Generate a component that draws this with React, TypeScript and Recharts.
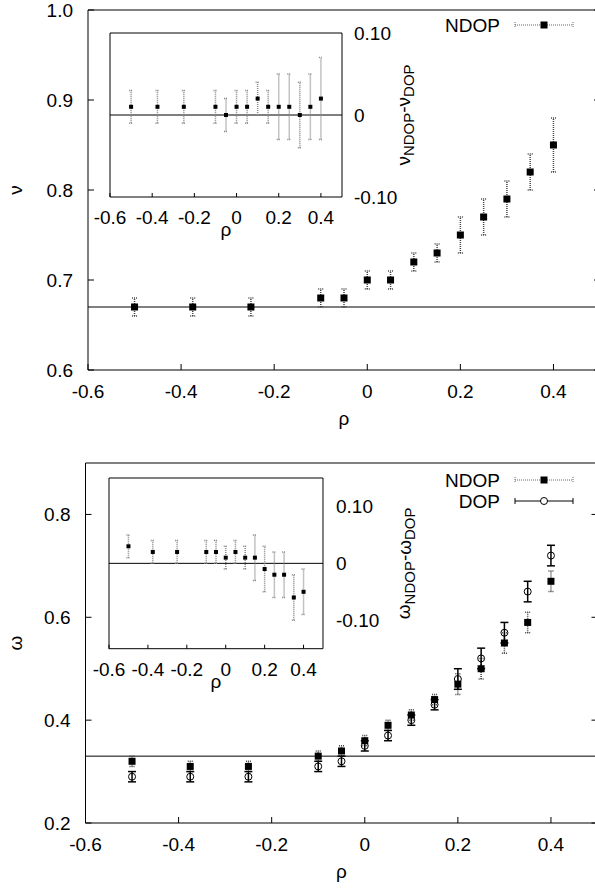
import React from "react";
import {
  ScatterChart,
  Scatter,
  XAxis,
  YAxis,
  ErrorBar,
  ReferenceLine,
} from "recharts";

// rho values shared by every series
const rho = [-0.5, -0.375, -0.25, -0.1, -0.05, 0, 0.05, 0.1, 0.15, 0.2, 0.25, 0.3, 0.35, 0.4];

// upper panel: nu
const nuNdop = [0.67, 0.67, 0.67, 0.68, 0.68, 0.7, 0.7, 0.72, 0.73, 0.75, 0.77, 0.79, 0.82, 0.85];
const nuNdopErr = [0.01, 0.01, 0.01, 0.01, 0.01, 0.01, 0.01, 0.01, 0.01, 0.02, 0.02, 0.02, 0.02, 0.03];
const nuDiff = [0.01, 0.01, 0.01, 0.01, 0, 0.01, 0.01, 0.02, 0.01, 0.01, 0.01, 0, 0.01, 0.02];
const nuDiffErr = [0.02, 0.02, 0.02, 0.02, 0.02, 0.02, 0.02, 0.02, 0.02, 0.04, 0.04, 0.04, 0.04, 0.05];
const nuRef = 0.67;

// lower panel: omega
const omegaNdop = [0.32, 0.31, 0.31, 0.33, 0.34, 0.36, 0.39, 0.41, 0.44, 0.47, 0.5, 0.55, 0.59, 0.67];
const omegaNdopErr = [0.01, 0.01, 0.01, 0.01, 0.01, 0.01, 0.01, 0.01, 0.01, 0.02, 0.02, 0.02, 0.02, 0.02];
const omegaDop = [0.29, 0.29, 0.29, 0.31, 0.32, 0.35, 0.37, 0.4, 0.43, 0.48, 0.52, 0.57, 0.65, 0.72];
const omegaDopErr = [0.01, 0.01, 0.01, 0.01, 0.01, 0.01, 0.01, 0.01, 0.01, 0.02, 0.02, 0.02, 0.02, 0.02];
const omegaDiff = [0.03, 0.02, 0.02, 0.02, 0.02, 0.01, 0.02, 0.01, 0.01, -0.01, -0.02, -0.02, -0.06, -0.05];
const omegaDiffErr = [0.02, 0.02, 0.02, 0.02, 0.02, 0.02, 0.02, 0.02, 0.04, 0.04, 0.04, 0.04, 0.04, 0.04];
const omegaRef = 0.33;

const xTicks = [-0.6, -0.4, -0.2, 0, 0.2, 0.4];
const nuTicks = [0.6, 0.7, 0.8, 0.9, 1.0];
const omegaTicks = [0.2, 0.4, 0.6, 0.8];
const diffTicks = [-0.1, 0, 0.1];

const FONT = "'Liberation Sans', Arial, Helvetica, sans-serif";
const FS = 19;
const tickStyle = { fontSize: FS, fill: "#000", fontFamily: FONT };
const line = { stroke: "#000" };

const fmtX = (v: number) => (v === 0 ? "0" : v.toFixed(1));
const fmtY = (v: number) => v.toFixed(1);
const fmtDiff = (v: number) => (v === 0 ? "0" : v.toFixed(2));
const blank = () => "";

const toPoints = (ys: number[], errs: number[]) =>
  rho.map((x, i) => ({ x, y: ys[i], err: errs[i] }));

const square = (size: number) => (p: any) =>
  <rect x={p.cx - size / 2} y={p.cy - size / 2} width={size} height={size} fill="#000" />;

const ring = (p: any) =>
  <circle cx={p.cx} cy={p.cy} r={3.5} fill="none" stroke="#000" strokeWidth={1} />;

const RotText = ({ cx, cy, children }: { cx: number; cy: number; children: React.ReactNode }) => (
  <text
    x={cx}
    y={cy}
    transform={`rotate(-90 ${cx} ${cy})`}
    textAnchor="middle"
    dominantBaseline="central"
    fontSize={FS}
    fontFamily={FONT}
    fill="#000"
  >
    {children}
  </text>
);

const mainYLabel = (sym: string) => (p: any) =>
  <RotText cx={15} cy={p.viewBox.y + p.viewBox.height / 2}>{sym}</RotText>;

const diffYLabel = (sym: string, dx: number) => (p: any) => (
  <RotText cx={p.viewBox.x + dx} cy={p.viewBox.y + p.viewBox.height / 2}>
    {sym}
    <tspan dy={5} fontSize={15}>NDOP</tspan>
    <tspan dy={-5}>-{sym}</tspan>
    <tspan dy={5} fontSize={15}>DOP</tspan>
  </RotText>
);

const rhoLabel = (dy: number) => (p: any) => (
  <text
    x={p.viewBox.x + p.viewBox.width / 2}
    y={p.viewBox.y + dy}
    textAnchor="middle"
    fontSize={FS}
    fontFamily={FONT}
    fill="#000"
  >
    ρ
  </text>
);

type LegendItem = { name: string; kind: "ndop" | "dop" };

const LegendBox = ({ items }: { items: LegendItem[] }) => (
  <svg width={150} height={items.length * 21 + 4} style={{ display: "block" }}>
    {items.map((it, i) => {
      const y = 11 + i * 21;
      const dotted = it.kind === "ndop";
      const st = dotted
        ? { stroke: "#666", strokeDasharray: "1 1" }
        : { stroke: "#000" };
      return (
        <g key={it.name}>
          <text x={60} y={y} textAnchor="end" dominantBaseline="central" fontSize={FS} fontFamily={FONT} fill="#000">
            {it.name}
          </text>
          <line x1={75} x2={133} y1={y} y2={y} {...st} />
          <line x1={75} x2={75} y1={y - 3} y2={y + 3} {...st} />
          <line x1={133} x2={133} y1={y - 3} y2={y + 3} {...st} />
          {dotted ? (
            <rect x={100.5} y={y - 3.5} width={7} height={7} fill="#000" />
          ) : (
            <circle cx={104} cy={y} r={3.5} fill="#fff" stroke="#000" />
          )}
        </g>
      );
    })}
  </svg>
);

type Pt = { x: number; y: number; err: number };

const MainPanel = ({
  sym,
  yDomain,
  yTicks,
  refY,
  ndop,
  dop,
  axisWidth,
}: {
  sym: string;
  yDomain: [number, number];
  yTicks: number[];
  refY: number;
  ndop: Pt[];
  dop?: Pt[];
  axisWidth: number;
}) => (
  <ScatterChart
    width={axisWidth + 512 + 10}
    height={430}
    margin={{ top: 9, right: 9, bottom: 0, left: 0 }}
  >
    <XAxis
      type="number"
      dataKey="x"
      domain={[-0.6, 0.5]}
      ticks={xTicks}
      interval={0}
      tickFormatter={fmtX}
      allowDataOverflow
      height={60}
      tickSize={-6}
      tickMargin={21}
      tick={tickStyle}
      axisLine={line}
      tickLine={line}
      label={{ content: rhoLabel(55) }}
    />
    <XAxis
      xAxisId="top"
      orientation="top"
      type="number"
      domain={[-0.6, 0.5]}
      ticks={xTicks}
      interval={0}
      tickFormatter={blank}
      allowDataOverflow
      height={1}
      tickSize={-6}
      axisLine={line}
      tickLine={line}
    />
    <YAxis
      type="number"
      dataKey="y"
      domain={yDomain}
      ticks={yTicks}
      interval={0}
      tickFormatter={fmtY}
      allowDataOverflow
      width={axisWidth}
      tickSize={-6}
      tickMargin={21}
      tick={tickStyle}
      axisLine={line}
      tickLine={line}
      label={{ content: mainYLabel(sym) }}
    />
    <YAxis
      yAxisId="right"
      orientation="right"
      type="number"
      domain={yDomain}
      ticks={yTicks}
      interval={0}
      tickFormatter={blank}
      allowDataOverflow
      width={1}
      tickSize={-6}
      axisLine={line}
      tickLine={line}
    />
    <ReferenceLine y={refY} stroke="#000" strokeWidth={1} />
    <Scatter data={ndop} dataKey="y" name="NDOP" shape={square(7)} isAnimationActive={false}>
      <ErrorBar dataKey="err" direction="y" width={2.5} stroke="#444" strokeDasharray="1 1" isAnimationActive={false} />
    </Scatter>
    {dop && (
      <Scatter data={dop} dataKey="y" name="DOP" shape={ring} isAnimationActive={false}>
        <ErrorBar dataKey="err" direction="y" width={4} stroke="#000" isAnimationActive={false} />
      </Scatter>
    )}
  </ScatterChart>
);

// inset panels: plot area starts 31px in from the wrapper's left edge
const INSET_LEFT = 31;

const InsetPanel = ({
  sym,
  yDomain,
  data,
  plotW,
  plotH,
  labelDx,
  tickGap,
}: {
  sym: string;
  yDomain: [number, number];
  data: Pt[];
  plotW: number;
  plotH: number;
  labelDx: number;
  tickGap: number;
}) => (
  <ScatterChart
    width={INSET_LEFT + plotW + 100}
    height={10 + plotH + 50}
    margin={{ top: 9, right: 0, bottom: 0, left: INSET_LEFT - 1 }}
  >
    <XAxis
      type="number"
      dataKey="x"
      domain={[-0.6, 0.5]}
      ticks={xTicks}
      interval={0}
      tickFormatter={fmtX}
      allowDataOverflow
      height={50}
      tickSize={-4}
      tickMargin={18}
      tick={tickStyle}
      axisLine={line}
      tickLine={line}
      label={{ content: rhoLabel(39) }}
    />
    <XAxis
      xAxisId="top"
      orientation="top"
      type="number"
      domain={[-0.6, 0.5]}
      ticks={xTicks}
      interval={0}
      tickFormatter={blank}
      allowDataOverflow
      height={1}
      tickSize={-4}
      axisLine={line}
      tickLine={line}
    />
    <YAxis
      type="number"
      dataKey="y"
      domain={yDomain}
      ticks={diffTicks}
      tickFormatter={blank}
      allowDataOverflow
      width={1}
      tickSize={0}
      axisLine={line}
      tickLine={false}
    />
    <YAxis
      yAxisId="right"
      orientation="right"
      type="number"
      domain={yDomain}
      ticks={diffTicks}
      interval={0}
      tickFormatter={fmtDiff}
      allowDataOverflow
      width={100}
      tickSize={0}
      tickMargin={tickGap}
      tick={tickStyle}
      axisLine={line}
      tickLine={false}
      label={{ content: diffYLabel(sym, labelDx) }}
    />
    <ReferenceLine y={0} stroke="#000" strokeWidth={1} />
    <Scatter data={data} dataKey="y" shape={square(4)} isAnimationActive={false}>
      <ErrorBar dataKey="err" direction="y" width={2} stroke="#888" strokeDasharray="1 1" isAnimationActive={false} />
    </Scatter>
  </ScatterChart>
);

export default function App() {
  return (
    <div
      style={{
        position: "absolute",
        left: 0,
        top: 0,
        width: 595,
        height: 894,
        overflow: "hidden",
        background: "#fff",
        fontFamily: FONT,
      }}
    >
      <div style={{ position: "absolute", left: 0, top: 0 }}>
        <MainPanel
          sym="ν"
          yDomain={[0.6, 1.0]}
          yTicks={nuTicks}
          refY={nuRef}
          ndop={toPoints(nuNdop, nuNdopErr)}
          axisWidth={88}
        />
      </div>
      <div style={{ position: "absolute", left: 440, top: 14 }}>
        <LegendBox items={[{ name: "NDOP", kind: "ndop" }]} />
      </div>
      <div style={{ position: "absolute", left: 110 - INSET_LEFT, top: 23 }}>
        <InsetPanel
          sym="ν"
          yDomain={[-0.1, 0.1]}
          data={toPoints(nuDiff, nuDiffErr)}
          plotW={232}
          plotH={164}
          labelDx={61}
          tickGap={12}
        />
      </div>
      <div style={{ position: "absolute", left: 0, top: 453 }}>
        <MainPanel
          sym="ω"
          yDomain={[0.2, 0.9]}
          yTicks={omegaTicks}
          refY={omegaRef}
          ndop={toPoints(omegaNdop, omegaNdopErr)}
          dop={toPoints(omegaDop, omegaDopErr)}
          axisWidth={85.5}
        />
      </div>
      <div style={{ position: "absolute", left: 440, top: 469 }}>
        <LegendBox
          items={[
            { name: "NDOP", kind: "ndop" },
            { name: "DOP", kind: "dop" },
          ]}
        />
      </div>
      <div style={{ position: "absolute", left: 108.7 - INSET_LEFT, top: 468.3 }}>
        <InsetPanel
          sym="ω"
          yDomain={[-0.15, 0.15]}
          data={toPoints(omegaDiff, omegaDiffErr)}
          plotW={214}
          plotH={170.7}
          labelDx={81}
          tickGap={13}
        />
      </div>
    </div>
  );
}
